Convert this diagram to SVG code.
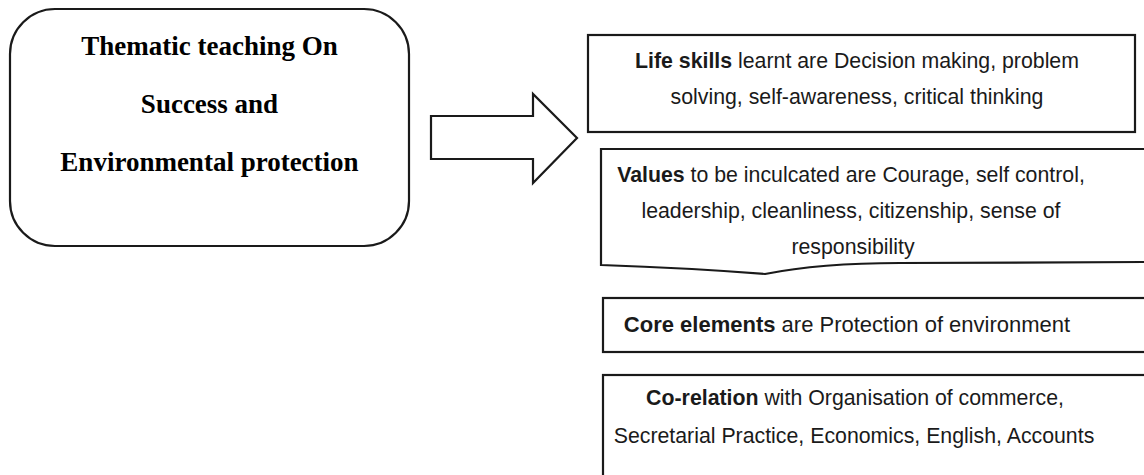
<svg xmlns="http://www.w3.org/2000/svg" width="1144" height="475" viewBox="0 0 1144 475">
<style>
.shape{fill:#fff;stroke:#1a1a1a;stroke-width:2.2}
.title{font-family:"Liberation Serif","Times New Roman",serif;font-weight:bold;font-size:27px;fill:#000;text-anchor:middle}
.txt{font-family:"Liberation Sans",Arial,sans-serif;font-size:21.3px;fill:#1a1a1a;text-anchor:middle}
.b{font-weight:bold}
</style>
<rect width="1144" height="475" fill="#fff"/>
<g id="theme">
<rect class="shape" x="10" y="9" width="399" height="237" rx="45" ry="45"/>
<text class="title" x="209.5" y="55">Thematic teaching On</text>
<text class="title" x="209.5" y="113">Success and</text>
<text class="title" x="209.5" y="171">Environmental protection</text>
</g>
<g id="connectors">
<path class="shape" d="M431,116 L533,116 L533,94 L577,138 L533,183 L533,159 L431,159 Z"/>
</g>
<g id="life-skills">
<rect class="shape" x="588" y="35" width="547" height="97"/>
<text class="txt" x="857" y="68"><tspan class="b">Life skills</tspan> learnt are Decision making, problem</text>
<text class="txt" x="857" y="104">solving, self-awareness, critical thinking</text>
</g>
<g id="values">
<path class="shape" d="M1150,149 L601,149 L601,265 Q690,268 765,274 Q820,263 900,263 L1150,262"/>
<text class="txt" x="851" y="182"><tspan class="b">Values</tspan> to be inculcated are Courage, self control,</text>
<text class="txt" x="851" y="218">leadership, cleanliness, citizenship, sense of</text>
<text class="txt" x="853" y="254">responsibility</text>
</g>
<g id="core-elements">
<rect class="shape" x="603" y="298" width="560" height="54"/>
<text class="txt" x="847" y="332" style="font-size:22px"><tspan class="b">Core elements</tspan> are Protection of environment</text>
</g>
<g id="co-relation">
<rect class="shape" x="603" y="375" width="560" height="120"/>
<text class="txt" x="855" y="405"><tspan class="b">Co-relation</tspan> with Organisation of commerce,</text>
<text class="txt" x="854" y="443">Secretarial Practice, Economics, English, Accounts</text>
</g>
</svg>
